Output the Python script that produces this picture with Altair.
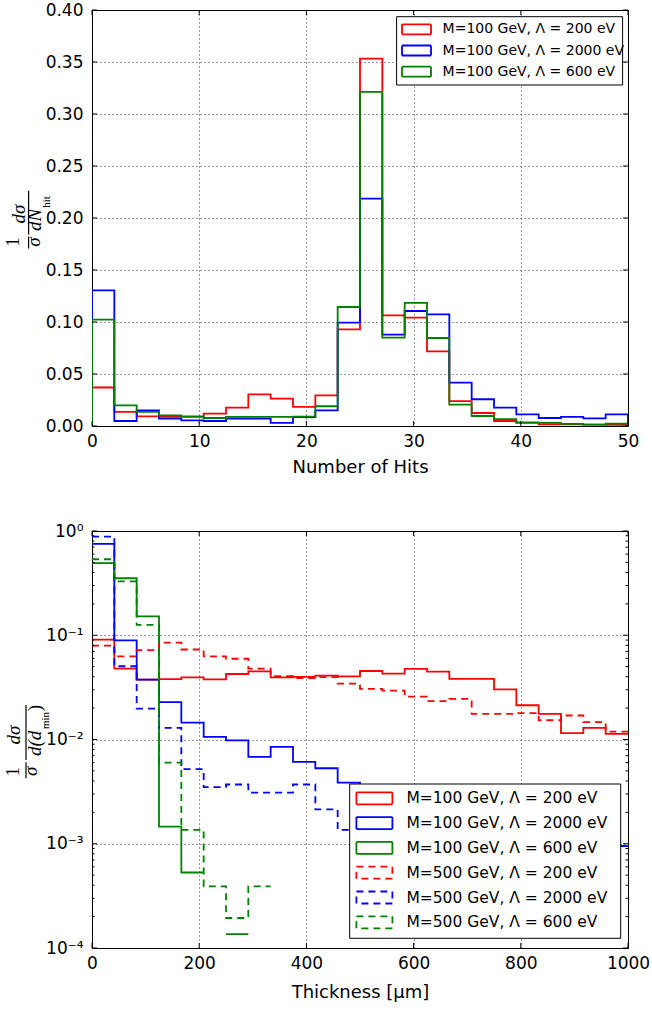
import altair as alt
import numpy as np
import pandas as pd

# ---------------- Number of hits: 24 bins spanning 0..50 ----------------
hit_edges = np.linspace(0, 50, 25)
hit_labels = ["M=100 GeV, Λ = 200 eV", "M=100 GeV, Λ = 2000 eV", "M=100 GeV, Λ = 600 eV"]
hit_colors = ["#ff0000", "#0000ff", "#008000"]

hits_m100_l200 = [0.0370, 0.0135, 0.0093, 0.0087, 0.0087, 0.0119, 0.0177, 0.0305,
                  0.0263, 0.0183, 0.0295, 0.0930, 0.3533, 0.1064, 0.1042, 0.0718,
                  0.0240, 0.0125, 0.0048, 0.0030, 0.0016, 0.0015, 0.0013, 0.0010]
hits_m100_l2000 = [0.1305, 0.0048, 0.0151, 0.0071, 0.0055, 0.0048, 0.0071, 0.0070,
                   0.0030, 0.0085, 0.0151, 0.0994, 0.2186, 0.0879, 0.1106, 0.1074,
                   0.0417, 0.0257, 0.0177, 0.0112, 0.0077, 0.0087, 0.0074, 0.0112]
hits_m100_l600 = [0.1023, 0.0199, 0.0135, 0.0103, 0.0093, 0.0077, 0.0087, 0.0087,
                  0.0087, 0.0090, 0.0190, 0.1144, 0.3212, 0.0850, 0.1183, 0.0846,
                  0.0205, 0.0096, 0.0067, 0.0035, 0.0030, 0.0020, 0.0013, 0.0022]
hit_values = [hits_m100_l200, hits_m100_l2000, hits_m100_l600]

hit_xticks = [0, 10, 20, 30, 40, 50]
hit_yticks = [0.0, 0.05, 0.10, 0.15, 0.20, 0.25, 0.30, 0.35, 0.40]

# ---------------- Minimum thickness: 24 bins spanning 0..1000 um ----------------
thick_edges = np.linspace(0, 1000, 25)
thick_labels = ["M=100 GeV, Λ = 200 eV", "M=100 GeV, Λ = 2000 eV", "M=100 GeV, Λ = 600 eV",
                "M=500 GeV, Λ = 200 eV", "M=500 GeV, Λ = 2000 eV", "M=500 GeV, Λ = 600 eV"]
thick_colors = ["#ff0000", "#0000ff", "#008000", "#ff0000", "#0000ff", "#008000"]
thick_dashes = [[1, 0], [1, 0], [1, 0], [7, 5], [7, 5], [7, 5]]

# empty bins are 0 (not drawn on the log axis)
thick_m100_l200 = [0.0906, 0.0479, 0.0375, 0.0380, 0.0395, 0.0378, 0.0425, 0.0451,
                   0.0395, 0.0398, 0.0410, 0.0404, 0.0454, 0.0428, 0.0475, 0.0448,
                   0.0381, 0.0381, 0.0303, 0.0213, 0.0176, 0.0115, 0.0129, 0.0113]
thick_m100_l2000 = [0.7510, 0.0893, 0.0375, 0.0228, 0.0145, 0.0106, 0.0098, 0.0068,
                    0.0085, 0.0061, 0.0053, 0.00385, 0.0031, 0.0027, 0.0024, 0.0022,
                    0.0019, 0.0018, 0.0016, 0.0013, 0.0012, 0.0011, 0.0010, 0.00095]
thick_m100_l600 = [0.4910, 0.3520, 0.1520, 0.00146, 0.00053, 0, 0.000136, 0,
                   0, 0, 0, 0, 0, 0, 0, 0, 0, 0, 0, 0, 0, 0, 0, 0]
thick_m500_l200 = [0.0794, 0.0628, 0.0720, 0.0850, 0.0730, 0.0627, 0.0595, 0.0478,
                   0.0405, 0.0389, 0.0396, 0.0344, 0.0306, 0.0294, 0.0258, 0.0233,
                   0.0245, 0.0176, 0.0176, 0.0179, 0.0153, 0.0170, 0.0147, 0.0119]
thick_m500_l2000 = [0.8830, 0.0504, 0.0198, 0.0129, 0.0052, 0.0035, 0.0037, 0.0031,
                    0.0031, 0.0037, 0.00214, 0.00136, 0.0012, 0.0011, 0.0010, 0.0009,
                    0.0008, 0.0008, 0.0007, 0.0007, 0.0006, 0.0006, 0.0007, 0.00095]
thick_m500_l600 = [0.5360, 0.3280, 0.1260, 0.0060, 0.00136, 0.00039, 0.000194, 0.00039,
                   0, 0, 0, 0, 0, 0, 0, 0, 0, 0, 0, 0, 0, 0, 0, 0]
thick_values = [thick_m100_l200, thick_m100_l2000, thick_m100_l600,
                thick_m500_l200, thick_m500_l2000, thick_m500_l600]

thick_xticks = [0, 200, 400, 600, 800, 1000]
thick_yticks = [1e-4, 1e-3, 1e-2, 1e-1, 1.0]
thick_yminor = [m * 10.0 ** k for k in range(-4, 0) for m in range(2, 10)]

W = 536
H_TOP = 416
H_BOT = 417
LINE_W = 1.8
TICK_FONT = "DejaVu Sans"
MATH_FONT = "Liberation Serif"
LABEL_SIZE = 17
TITLE_SIZE = 18
ONE = pd.DataFrame({"k": [0]})


def step_outline(edges, values, name, closed):
    """Histogram outline as ordered vertices; empty bins split the path."""
    rows, seg, o = [], 0, 0
    if closed:
        rows.append(dict(x=edges[0], y=0.0, series=name, seg=f"{name}|0", o=o))
        o += 1
    for i, v in enumerate(values):
        if v is None or v <= 0:
            seg += 1
            continue
        for xe in (edges[i], edges[i + 1]):
            rows.append(dict(x=float(xe), y=float(v), series=name, seg=f"{name}|{seg}", o=o))
            o += 1
    if closed:
        rows.append(dict(x=edges[-1], y=0.0, series=name, seg=f"{name}|{seg}", o=o))
    return rows


def grid_axis(values, title, fmt=None, label_expr=None, pad=8, title_pad=9):
    kw = dict(values=values, grid=True, gridColor="#000000", gridDash=[1, 3],
              gridWidth=0.8, ticks=False, tickSize=0, domain=False,
              labelFlush=False, labelOverlap=False,
              labelPadding=pad, labelFont=TICK_FONT, labelFontSize=LABEL_SIZE,
              labelColor="#000000", titleFont=TICK_FONT, titleFontSize=TITLE_SIZE,
              titleFontWeight="normal", titleColor="#000000")
    if title is not None:
        kw["title"] = title
        kw["titlePadding"] = title_pad
    else:
        kw["title"] = None
    if fmt is not None:
        kw["format"] = fmt
    if label_expr is not None:
        kw["labelExpr"] = label_expr
    return alt.Axis(**kw)


def inward_ticks(xvals, yvals, height, major=5, minor_y=None, minor=2.5):
    """Inward tick marks on all four sides of the frame."""
    layers = []
    xdf = pd.DataFrame({"x": xvals})
    ydf = pd.DataFrame({"y": yvals})
    rule = dict(color="#000000", strokeWidth=1)
    layers.append(alt.Chart(xdf).mark_rule(**rule).encode(
        x="x:Q", y=alt.value(height), y2=alt.value(height - major)))
    layers.append(alt.Chart(xdf).mark_rule(**rule).encode(
        x="x:Q", y=alt.value(0), y2=alt.value(major)))
    layers.append(alt.Chart(ydf).mark_rule(**rule).encode(
        y="y:Q", x=alt.value(0), x2=alt.value(major)))
    layers.append(alt.Chart(ydf).mark_rule(**rule).encode(
        y="y:Q", x=alt.value(W), x2=alt.value(W - major)))
    if minor_y is not None:
        mdf = pd.DataFrame({"y": minor_y})
        layers.append(alt.Chart(mdf).mark_rule(**rule).encode(
            y="y:Q", x=alt.value(0), x2=alt.value(minor)))
        layers.append(alt.Chart(mdf).mark_rule(**rule).encode(
            y="y:Q", x=alt.value(W), x2=alt.value(W - minor)))
    return layers


def legend_box(labels, colors, dashes, box, row0, row_step, patch_x, patch_h,
               text_x, font_size):
    x0, x1, y0, y1 = box
    layers = [alt.Chart(ONE).mark_rect(fill="#ffffff", stroke="#000000", strokeWidth=1).encode(
        x=alt.value(x0), x2=alt.value(x1), y=alt.value(y0), y2=alt.value(y1))]
    for i, (lab, col, dash) in enumerate(zip(labels, colors, dashes)):
        yc = row0 + row_step * i
        layers.append(alt.Chart(ONE).mark_rect(filled=False, stroke=col, strokeWidth=LINE_W,
                                               strokeDash=dash).encode(
            x=alt.value(patch_x[0]), x2=alt.value(patch_x[1]),
            y=alt.value(yc - patch_h / 2), y2=alt.value(yc + patch_h / 2)))
        layers.append(alt.Chart(ONE).mark_text(text=lab, align="left", baseline="middle",
                                               font=TICK_FONT, fontSize=font_size,
                                               color="#000000").encode(
            x=alt.value(text_x), y=alt.value(yc)))
    return layers


def math_text(txt, x, y, size=19, italic=True):
    kw = dict(text=txt, angle=270, align="center", baseline="alphabetic",
              font=MATH_FONT, fontSize=size, color="#000000")
    if italic:
        kw["fontStyle"] = "italic"
    return alt.Chart(ONE).mark_text(**kw).encode(x=alt.value(x), y=alt.value(y))


def frac_bar(x, y0, y1):
    return alt.Chart(ONE).mark_rule(color="#000000", strokeWidth=1.2).encode(
        x=alt.value(x), y=alt.value(y0), y2=alt.value(y1))


# ---------------- top panel ----------------
hit_rows = []
for lab, vals in zip(hit_labels, hit_values):
    hit_rows += step_outline(hit_edges, vals, lab, closed=True)
hit_df = pd.DataFrame(hit_rows)

hit_lines = alt.Chart(hit_df).mark_line(strokeWidth=LINE_W, clip=True).encode(
    x=alt.X("x:Q", scale=alt.Scale(domain=[0, 50], nice=False, zero=False),
            axis=grid_axis(hit_xticks, "Number of Hits", pad=7)),
    y=alt.Y("y:Q", scale=alt.Scale(domain=[0, 0.4], nice=False),
            axis=grid_axis(hit_yticks, None, fmt=".2f", pad=9)),
    color=alt.Color("series:N", scale=alt.Scale(domain=hit_labels, range=hit_colors), legend=None),
    detail="seg:N",
    order="o:Q",
)

top_layers = [hit_lines] + inward_ticks(hit_xticks, hit_yticks, H_TOP)
top_layers += legend_box(hit_labels, hit_colors, [[1, 0]] * 3,
                         box=(304.6, 530.6, 6.7, 75.0), row0=19.3, row_step=21.2,
                         patch_x=(310, 339), patch_h=10, text_x=350.6, font_size=14)
top_layers += [
    math_text("1", -72.7, 232, italic=False),
    math_text("σ", -51.7, 232),
    frac_bar(-63.4, 226.5, 238.5),
    math_text("dσ", -66.7, 204),
    math_text("dN", -50.7, 210),
    math_text("hit", -42.5, 192, size=11, italic=False),
    frac_bar(-63.4, 180.7, 224.5),
]
top = alt.layer(*top_layers).properties(width=W, height=H_TOP)

# ---------------- bottom panel ----------------
thick_rows = []
for lab, vals in zip(thick_labels, thick_values):
    thick_rows += step_outline(thick_edges, vals, lab, closed=False)
thick_df = pd.DataFrame(thick_rows)

log_labels = ("datum.value > 0.5 ? '10⁰' : datum.value > 0.05 ? '10⁻¹' : "
              "datum.value > 0.005 ? '10⁻²' : datum.value > 0.0005 ? '10⁻³' : '10⁻⁴'")

thick_lines = alt.Chart(thick_df).mark_line(strokeWidth=LINE_W, clip=True).encode(
    x=alt.X("x:Q", scale=alt.Scale(domain=[0, 1000], nice=False, zero=False),
            axis=grid_axis(thick_xticks, "Thickness [μm]", fmt="d", pad=7, title_pad=12)),
    y=alt.Y("y:Q", scale=alt.Scale(type="log", domain=[1e-4, 1.0], nice=False),
            axis=grid_axis(thick_yticks, None, label_expr=log_labels, pad=9)),
    color=alt.Color("series:N", scale=alt.Scale(domain=thick_labels, range=thick_colors), legend=None),
    strokeDash=alt.StrokeDash("series:N", scale=alt.Scale(domain=thick_labels, range=thick_dashes),
                              legend=None),
    detail="seg:N",
    order="o:Q",
)

bot_layers = [thick_lines] + inward_ticks(thick_xticks, thick_yticks, H_BOT, minor_y=thick_yminor)
bot_layers += legend_box(thick_labels, thick_colors, thick_dashes,
                         box=(257.7, 528.7, 253.0, 407.3), row0=267.3, row_step=24.8,
                         patch_x=(264.4, 300.4), patch_h=12, text_x=314.4, font_size=15.5)
bot_layers += [
    math_text("1", -73, 240.8, italic=False),
    math_text("σ", -55, 240.3),
    frac_bar(-66, 231.3, 247.3),
    math_text("dσ", -71.6, 204),
    math_text("d(d", -51.3, 212.3),
    math_text("min", -43.0, 189.5, size=11, italic=False),
    math_text(")", -51.3, 177.0, italic=False),
    frac_bar(-66, 174, 229),
]
bottom = alt.layer(*bot_layers).properties(width=W, height=H_BOT)

chart = alt.vconcat(top, bottom, spacing=44).properties(
    padding={"left": 3, "top": 0, "right": 0, "bottom": 2},
    background="#ffffff",
).configure_view(stroke="#000000", strokeWidth=1)

chart.save("out.html", embed_options={"renderer": "svg", "actions": False})
